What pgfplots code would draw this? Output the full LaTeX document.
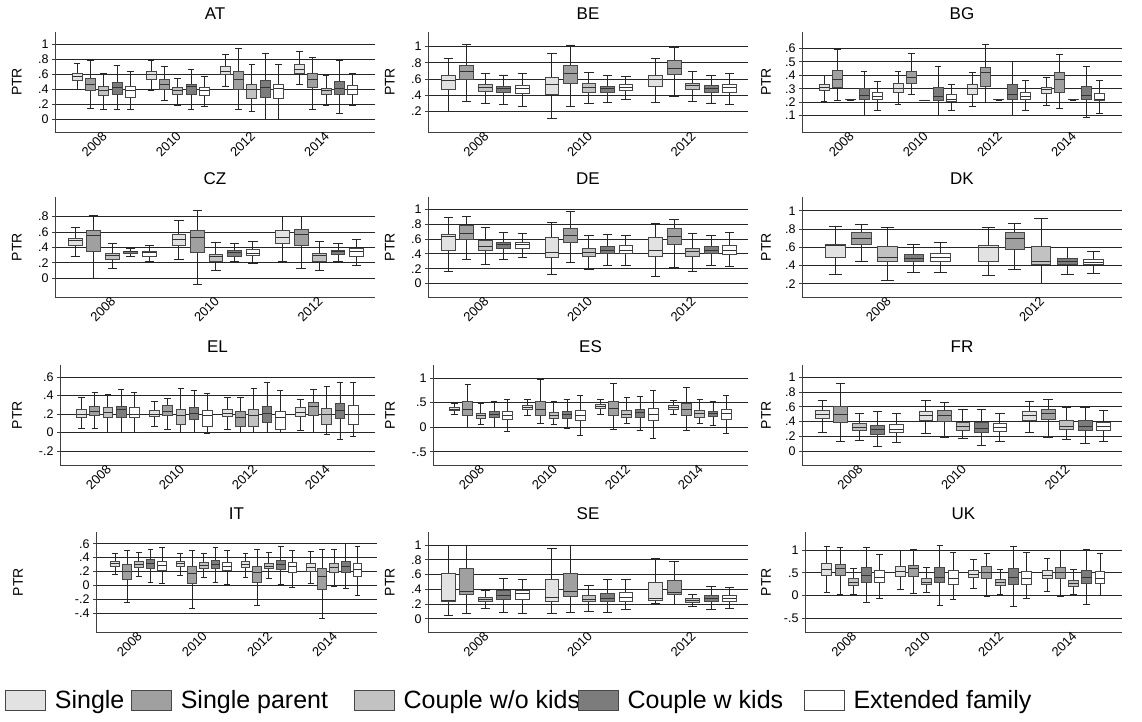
\documentclass[border=0pt]{standalone}
\usepackage{pgfplots}
\pgfplotsset{compat=1.18}
\usepackage{pgfplotstable}
\usepgfplotslibrary{statistics}
\usepackage{fontspec}
\setmainfont{Liberation Sans}

\definecolor{c1}{HTML}{E2E2E2}
\definecolor{c2}{HTML}{A0A0A0}
\definecolor{c3}{HTML}{C2C2C2}
\definecolor{c4}{HTML}{7C7C7C}
\definecolor{c5}{HTML}{FFFFFF}
\colorlet{edge}{black!72}

% columns: g = year group, c = household type, lw lq med uq uw
\pgfplotstableread{
g c lw lq med uq uw
0 1 0.40 0.525 0.57 0.61 0.75
0 2 0.15 0.39 0.47 0.55 0.78
0 3 0.135 0.315 0.39 0.435 0.61
0 4 0.135 0.335 0.425 0.49 0.72
0 5 0.135 0.29 0.39 0.435 0.64
1 1 0.38 0.53 0.60 0.64 0.785
1 2 0.245 0.40 0.47 0.535 0.70
1 3 0.19 0.33 0.38 0.42 0.55
1 4 0.135 0.335 0.435 0.47 0.67
1 5 0.165 0.32 0.39 0.42 0.57
2 1 0.445 0.60 0.64 0.70 0.86
2 2 0.135 0.40 0.525 0.64 0.94
2 3 0.10 0.28 0.40 0.47 0.73
2 4 0.0 0.29 0.425 0.525 0.88
2 5 0.0 0.28 0.415 0.46 0.73
3 1 0.47 0.615 0.66 0.73 0.90
3 2 0.135 0.425 0.525 0.615 0.82
3 3 0.18 0.33 0.39 0.41 0.58
3 4 0.075 0.335 0.415 0.505 0.785
3 5 0.18 0.335 0.40 0.45 0.61
}\tabAT

\pgfplotstableread{
g c lw lq med uq uw
0 1 0.20 0.47 0.585 0.64 0.85
0 2 0.325 0.59 0.695 0.765 1.03
0 3 0.305 0.45 0.50 0.53 0.67
0 4 0.285 0.43 0.48 0.51 0.65
0 5 0.265 0.42 0.48 0.52 0.665
1 1 0.12 0.415 0.53 0.625 0.92
1 2 0.265 0.55 0.665 0.765 1.02
1 3 0.30 0.435 0.49 0.54 0.68
1 4 0.315 0.43 0.48 0.51 0.64
1 5 0.345 0.46 0.50 0.53 0.63
2 1 0.315 0.51 0.59 0.64 0.85
2 2 0.38 0.66 0.735 0.835 0.99
2 3 0.325 0.47 0.52 0.55 0.69
2 4 0.305 0.43 0.48 0.52 0.64
2 5 0.285 0.43 0.49 0.53 0.665
}\tabBE

\pgfplotstableread{
g c lw lq med uq uw
0 1 0.205 0.285 0.31 0.335 0.40
0 2 0.21 0.31 0.37 0.435 0.59
0 3 0.216 0.218 0.219 0.220 0.222
0 4 0.10 0.22 0.25 0.30 0.43
0 5 0.14 0.22 0.245 0.27 0.355
1 1 0.185 0.27 0.305 0.34 0.43
1 2 0.255 0.34 0.385 0.43 0.56
1 3 0.210 0.212 0.213 0.214 0.216
1 4 0.10 0.215 0.245 0.31 0.465
1 5 0.135 0.205 0.22 0.26 0.335
2 1 0.164 0.26 0.304 0.33 0.42
2 2 0.20 0.32 0.42 0.455 0.63
2 3 0.216 0.218 0.219 0.220 0.222
2 4 0.10 0.22 0.255 0.33 0.50
2 5 0.135 0.22 0.245 0.27 0.36
3 1 0.175 0.265 0.295 0.31 0.385
3 2 0.155 0.27 0.37 0.42 0.555
3 3 0.216 0.218 0.219 0.220 0.222
3 4 0.085 0.22 0.25 0.315 0.465
3 5 0.115 0.215 0.22 0.265 0.36
}\tabBG

\pgfplotstableread{
g c lw lq med uq uw
0 1 0.28 0.425 0.49 0.52 0.665
0 2 0.0 0.35 0.55 0.615 0.82
0 3 0.125 0.245 0.295 0.32 0.45
0 4 0.285 0.32 0.34 0.35 0.385
0 5 0.21 0.285 0.33 0.35 0.425
1 1 0.245 0.425 0.50 0.565 0.75
1 2 -0.085 0.33 0.535 0.62 0.875
1 3 0.105 0.21 0.28 0.31 0.465
1 4 0.21 0.285 0.33 0.36 0.445
1 5 0.19 0.295 0.32 0.37 0.48
2 1 0.22 0.45 0.535 0.615 0.80
2 2 0.13 0.43 0.565 0.635 0.80
2 3 0.105 0.21 0.295 0.32 0.48
2 4 0.22 0.31 0.34 0.36 0.445
2 5 0.16 0.285 0.34 0.38 0.50
}\tabCZ

\pgfplotstableread{
g c lw lq med uq uw
0 1 0.16 0.45 0.63 0.66 0.89
0 2 0.32 0.59 0.68 0.78 0.90
0 3 0.26 0.45 0.50 0.58 0.76
0 4 0.33 0.47 0.52 0.56 0.69
0 5 0.35 0.47 0.52 0.56 0.67
1 1 0.13 0.35 0.42 0.62 0.83
1 2 0.28 0.55 0.65 0.74 0.97
1 3 0.19 0.36 0.42 0.48 0.65
1 4 0.24 0.40 0.45 0.50 0.66
1 5 0.25 0.40 0.45 0.51 0.65
2 1 0.10 0.36 0.44 0.62 0.81
2 2 0.22 0.53 0.63 0.74 0.86
2 3 0.17 0.36 0.43 0.48 0.67
2 4 0.24 0.40 0.45 0.50 0.65
2 5 0.23 0.39 0.44 0.51 0.69
}\tabDE

\pgfplotstableread{
g c lw lq med uq uw
0 1 0.30 0.49 0.62 0.63 0.83
0 2 0.45 0.63 0.70 0.76 0.85
0 3 0.235 0.44 0.49 0.61 0.82
0 4 0.325 0.44 0.476 0.52 0.63
0 5 0.32 0.44 0.49 0.53 0.65
1 1 0.29 0.45 0.60 0.62 0.82
1 2 0.36 0.58 0.70 0.76 0.86
1 3 0.20 0.41 0.44 0.61 0.91
1 4 0.30 0.41 0.44 0.48 0.60
1 5 0.31 0.41 0.43 0.47 0.55
}\tabDK

\pgfplotstableread{
g c lw lq med uq uw
0 1 0.04 0.16 0.20 0.25 0.38
0 2 0.04 0.19 0.23 0.28 0.43
0 3 0.0 0.16 0.22 0.27 0.41
0 4 0.0 0.16 0.25 0.28 0.47
0 5 0.0 0.16 0.20 0.27 0.43
1 1 0.07 0.17 0.20 0.24 0.34
1 2 0.03 0.18 0.23 0.29 0.37
1 3 0.0 0.09 0.19 0.25 0.48
1 4 0.0 0.14 0.21 0.27 0.46
1 5 -0.01 0.07 0.19 0.24 0.42
2 1 0.03 0.17 0.21 0.25 0.38
2 2 0.0 0.07 0.16 0.23 0.38
2 3 0.0 0.07 0.19 0.25 0.48
2 4 0.0 0.11 0.21 0.28 0.54
2 5 0.0 0.03 0.16 0.23 0.45
3 1 0.02 0.17 0.22 0.27 0.36
3 2 0.0 0.18 0.28 0.33 0.47
3 3 -0.02 0.09 0.20 0.26 0.50
3 4 -0.07 0.15 0.24 0.32 0.54
3 5 -0.04 0.09 0.20 0.29 0.54
}\tabEL

\pgfplotstableread{
g c lw lq med uq uw
0 1 0.27 0.35 0.37 0.41 0.48
0 2 0.0 0.24 0.37 0.52 0.88
0 3 0.06 0.17 0.23 0.29 0.48
0 4 0.0 0.19 0.26 0.32 0.52
0 5 -0.09 0.15 0.24 0.32 0.57
1 1 0.25 0.36 0.40 0.45 0.56
1 2 0.07 0.24 0.37 0.53 0.97
1 3 0.06 0.18 0.23 0.30 0.52
1 4 -0.03 0.18 0.27 0.32 0.56
1 5 -0.17 0.13 0.25 0.35 0.65
2 1 0.27 0.38 0.42 0.47 0.57
2 2 -0.04 0.24 0.38 0.52 0.90
2 3 0.07 0.19 0.27 0.34 0.61
2 4 -0.06 0.20 0.30 0.37 0.63
2 5 -0.23 0.13 0.26 0.39 0.76
3 1 0.26 0.37 0.41 0.45 0.55
3 2 -0.06 0.25 0.37 0.48 0.82
3 3 0.07 0.20 0.28 0.35 0.57
3 4 0.04 0.22 0.28 0.33 0.53
3 5 -0.13 0.16 0.28 0.36 0.65
}\tabES

\pgfplotstableread{
g c lw lq med uq uw
0 1 0.25 0.44 0.50 0.55 0.69
0 2 0.13 0.39 0.49 0.61 0.92
0 3 0.14 0.28 0.32 0.37 0.51
0 4 0.06 0.23 0.29 0.35 0.53
0 5 0.11 0.25 0.29 0.36 0.51
1 1 0.24 0.41 0.48 0.53 0.69
1 2 0.18 0.40 0.48 0.55 0.66
1 3 0.17 0.28 0.33 0.39 0.56
1 4 0.07 0.25 0.30 0.39 0.56
1 5 0.13 0.27 0.32 0.37 0.51
2 1 0.25 0.42 0.48 0.54 0.67
2 2 0.19 0.43 0.51 0.57 0.70
2 3 0.16 0.29 0.33 0.41 0.59
2 4 0.10 0.28 0.33 0.41 0.59
2 5 0.13 0.28 0.33 0.39 0.55
}\tabFR

\pgfplotstableread{
g c lw lq med uq uw
0 1 0.16 0.27 0.31 0.34 0.46
0 2 -0.25 0.08 0.20 0.30 0.51
0 3 0.13 0.26 0.30 0.34 0.47
0 4 0.05 0.25 0.31 0.37 0.52
0 5 0.03 0.22 0.29 0.35 0.55
1 1 0.15 0.27 0.31 0.34 0.46
1 2 -0.33 0.03 0.17 0.28 0.51
1 3 0.12 0.25 0.29 0.33 0.46
1 4 0.05 0.24 0.30 0.36 0.55
1 5 0.01 0.21 0.27 0.33 0.50
2 1 0.12 0.26 0.30 0.34 0.46
2 2 -0.29 0.04 0.18 0.28 0.52
2 3 0.10 0.24 0.28 0.32 0.47
2 4 0.02 0.23 0.30 0.36 0.56
2 5 -0.03 0.19 0.27 0.33 0.51
3 1 0.03 0.20 0.26 0.31 0.49
3 2 -0.48 -0.06 0.13 0.25 0.52
3 3 -0.01 0.19 0.26 0.32 0.52
3 4 -0.05 0.19 0.28 0.35 0.60
3 5 -0.14 0.13 0.23 0.32 0.56
}\tabIT

\pgfplotstableread{
g c lw lq med uq uw
0 1 0.05 0.24 0.25 0.62 1.0
0 2 0.07 0.33 0.37 0.68 1.0
0 3 0.14 0.23 0.26 0.29 0.38
0 4 0.08 0.26 0.32 0.38 0.55
0 5 0.07 0.26 0.34 0.39 0.53
1 1 0.07 0.24 0.29 0.53 0.95
1 2 0.08 0.31 0.37 0.62 1.0
1 3 0.10 0.23 0.26 0.32 0.45
1 4 0.08 0.23 0.28 0.35 0.53
1 5 0.12 0.23 0.29 0.36 0.54
2 1 0.21 0.25 0.28 0.49 0.82
2 2 0.19 0.33 0.36 0.52 0.78
2 3 0.17 0.22 0.25 0.27 0.33
2 4 0.12 0.23 0.27 0.32 0.44
2 5 0.14 0.23 0.28 0.32 0.43
}\tabSE

\pgfplotstableread{
g c lw lq med uq uw
0 1 0.06 0.45 0.58 0.71 1.08
0 2 0.03 0.44 0.60 0.69 1.05
0 3 0.03 0.22 0.28 0.37 0.60
0 4 -0.15 0.30 0.45 0.61 1.06
0 5 -0.06 0.30 0.40 0.55 0.91
1 1 0.13 0.43 0.53 0.64 0.99
1 2 0.05 0.43 0.59 0.67 1.02
1 3 0.08 0.24 0.30 0.38 0.61
1 4 -0.22 0.28 0.41 0.61 1.10
1 5 -0.09 0.25 0.38 0.55 0.94
2 1 0.16 0.40 0.47 0.55 0.80
2 2 -0.01 0.38 0.52 0.65 0.93
2 3 0.03 0.22 0.28 0.36 0.58
2 4 -0.24 0.25 0.40 0.60 1.09
2 5 -0.06 0.24 0.38 0.53 0.94
3 1 0.10 0.38 0.45 0.55 0.82
3 2 -0.02 0.37 0.50 0.63 1.00
3 3 0.02 0.20 0.26 0.34 0.57
3 4 -0.19 0.27 0.40 0.56 1.01
3 5 0.0 0.26 0.37 0.53 0.93
}\tabUK

\newcommand\drawboxes[1]{%
  \pgfplotstablegetrowsof{#1}%
  \pgfmathtruncatemacro\lastrow{\pgfplotsretval-1}%
  \pgfplotsforeachungrouped \rowi in {0,...,\lastrow}{%
    \pgfplotstablegetelem{\rowi}{g}\of{#1}\let\vg\pgfplotsretval
    \pgfplotstablegetelem{\rowi}{c}\of{#1}\let\vc\pgfplotsretval
    \pgfplotstablegetelem{\rowi}{lw}\of{#1}\let\vlw\pgfplotsretval
    \pgfplotstablegetelem{\rowi}{lq}\of{#1}\let\vlq\pgfplotsretval
    \pgfplotstablegetelem{\rowi}{med}\of{#1}\let\vmed\pgfplotsretval
    \pgfplotstablegetelem{\rowi}{uq}\of{#1}\let\vuq\pgfplotsretval
    \pgfplotstablegetelem{\rowi}{uw}\of{#1}\let\vuw\pgfplotsretval
    \pgfmathsetmacro\vpos{\vg*\gsp+\vc-1}%
    \edef\doplot{\noexpand\addplot[boxstyle, fill=c\vc, boxplot prepared={draw position=\vpos, lower whisker=\vlw, lower quartile=\vlq, median=\vmed, upper quartile=\vuq, upper whisker=\vuw}] coordinates {};}%
    \doplot
  }%
}

\pgfplotsset{
  boxstyle/.style={draw=edge, line width=0.9pt, solid,
    boxplot/every whisker/.style={draw=black!85},
    boxplot/every median/.style={draw=black!80, line width=1pt}},
  panel/.style={
    scale only axis, height=100pt,
    anchor=north west,
    axis x line*=bottom, axis y line*=left,
    axis line style={black!75, line width=0.9pt},
    ymajorgrids, grid style={black!85, line width=0.9pt},
    xtick style={draw=none}, ytick style={black!75, line width=0.9pt},
    major tick length=3pt, tick align=outside,
    tick label style={font=\fontsize{12.5}{12.5}\selectfont},
    xticklabel style={font=\fontsize{13}{13}\selectfont, inner sep=0pt, xshift=1pt, yshift=1pt, rotate=45, anchor=east},
    ylabel={PTR},
    ylabel style={font=\fontsize{14}{14}\selectfont, anchor=center},
    title style={font=\fontsize{17}{17}\selectfont, yshift=3pt},
    boxplot/draw direction=y,
    boxplot/box extend=0.75,
    boxplot/whisker extend=0.5,
  },
  four/.style={xmin=-1.65, xmax=22.35, xtick={2,7.56,13.12,18.68}, xticklabels={2008,2010,2012,2014}},
  three/.style={xmin=-1.1, xmax=16.2, xtick={2,7.6,13.2}, xticklabels={2008,2010,2012}},
  two/.style={xmin=-1.27, xmax=10.94, xtick={2,7.85}, xticklabels={2008,2012}},
  yA/.style={ytick={0,0.2,0.4,0.6,0.8,1}, yticklabels={0,.2,.4,.6,.8,1}},
  yB/.style={ytick={0.2,0.4,0.6,0.8,1}, yticklabels={.2,.4,.6,.8,1}},
}

\begin{document}
\begin{tikzpicture}
\path[use as bounding box] (0pt,0pt) rectangle (1142pt,-722pt);

% Row 1
\def\gsp{5.56}
\begin{axis}[panel, four, yA, at={(55pt,-32pt)}, width=320pt, ymin=-0.17, ymax=1.166, title={AT},
  ylabel style={at={(axis description cs:-0.119,0.5)}}]
\drawboxes{\tabAT}
\end{axis}

\def\gsp{5.6}
\begin{axis}[panel, three, yB, at={(428pt,-32pt)}, width=320pt, ymin=-0.053, ymax=1.18, title={BE},
  ylabel style={at={(axis description cs:-0.119,0.5)}}]
\drawboxes{\tabBE}
\end{axis}

\def\gsp{5.56}
\begin{axis}[panel, four, at={(802pt,-32pt)}, width=320pt, ymin=-0.023, ymax=0.723, title={BG},
  ytick={0.1,0.2,0.3,0.4,0.5,0.6}, yticklabels={.1,.2,.3,.4,.5,.6},
  ylabel style={at={(axis description cs:-0.1125,0.5)}}]
\drawboxes{\tabBG}
\end{axis}

% Row 2
\def\gsp{5.6}
\begin{axis}[panel, three, at={(55pt,-197pt)}, width=320pt, ymin=-0.248, ymax=1.057, title={CZ},
  ytick={0,0.2,0.4,0.6,0.8}, yticklabels={0,.2,.4,.6,.8},
  ylabel style={at={(axis description cs:-0.119,0.5)}}]
\drawboxes{\tabCZ}
\end{axis}

\begin{axis}[panel, three, yA, at={(428pt,-197pt)}, width=320pt, ymin=-0.18, ymax=1.166, title={DE},
  ylabel style={at={(axis description cs:-0.119,0.5)}}]
\drawboxes{\tabDE}
\end{axis}

\def\gsp{5.85}
\begin{axis}[panel, two, yB, at={(802pt,-197pt)}, width=320pt, ymin=0.056, ymax=1.15, title={DK},
  ylabel style={at={(axis description cs:-0.1125,0.5)}}]
\drawboxes{\tabDK}
\end{axis}

% Row 3
\def\gsp{5.56}
\begin{axis}[panel, four, at={(60pt,-365pt)}, width=315pt, ymin=-0.35, ymax=0.73, title={EL},
  ytick={-0.2,0,0.2,0.4,0.6}, yticklabels={-.2,0,.2,.4,.6},
  ylabel style={at={(axis description cs:-0.1365,0.5)}}]
\drawboxes{\tabEL}
\end{axis}

\begin{axis}[panel, four, at={(433pt,-365pt)}, width=315pt, ymin=-0.77, ymax=1.27, title={ES},
  ytick={-0.5,0,0.5,1}, yticklabels={-.5,0,.5,1},
  ylabel style={at={(axis description cs:-0.1365,0.5)}}]
\drawboxes{\tabES}
\end{axis}

\def\gsp{5.6}
\begin{axis}[panel, three, yA, at={(802pt,-365pt)}, width=320pt, ymin=-0.19, ymax=1.166, title={FR},
  ylabel style={at={(axis description cs:-0.1125,0.5)}}]
\drawboxes{\tabFR}
\end{axis}

% Row 4
\def\gsp{5.56}
\begin{axis}[panel, four, at={(96pt,-532pt)}, width=281pt, ymin=-0.67, ymax=0.77, title={IT},
  ytick={-0.4,-0.2,0,0.2,0.4,0.6}, yticklabels={-.4,-.2,0,.2,.4,.6},
  ylabel style={at={(axis description cs:-0.2776,0.5)}}]
\drawboxes{\tabIT}
\end{axis}

\def\gsp{5.6}
\begin{axis}[panel, three, yA, at={(428pt,-532pt)}, width=320pt, ymin=-0.18, ymax=1.18, title={SE},
  ylabel style={at={(axis description cs:-0.119,0.5)}}]
\drawboxes{\tabSE}
\end{axis}

\def\gsp{5.56}
\begin{axis}[panel, four, at={(805pt,-532pt)}, width=317pt, ymin=-0.80, ymax=1.40, title={UK},
  ytick={-0.5,0,0.5,1}, yticklabels={-.5,0,.5,1},
  ylabel style={at={(axis description cs:-0.123,0.5)}}]
\drawboxes{\tabUK}
\end{axis}

% Legend
\begin{axis}[at={(5pt,-700pt)}, anchor=west, hide axis, scale only axis,
  width=1pt, height=1pt, xmin=0, xmax=1, ymin=0, ymax=1,
  legend style={at={(0,0.5)}, anchor=west, draw=none, fill=none, inner sep=0pt, outer sep=0pt,
    nodes={inner sep=0pt},
    legend columns=5, font=\fontsize{25}{25}\selectfont,
    /tikz/every odd column/.style={column sep=9pt},
    /tikz/every even column/.style={column sep=0pt}},
  legend image code/.code={\draw[#1, line width=0.9pt] (0pt,-10pt) rectangle (40pt,10pt);}]
\addlegendimage{fill=c1, draw=edge}\addlegendentry{\makebox[76pt][l]{Single}}
\addlegendimage{fill=c2, draw=edge}\addlegendentry{\makebox[173pt][l]{Single parent}}
\addlegendimage{fill=c3, draw=edge}\addlegendentry{\makebox[174pt][l]{Couple w/o kids}}
\addlegendimage{fill=c4, draw=edge}\addlegendentry{\makebox[176pt][l]{Couple w kids}}
\addlegendimage{fill=c5, draw=edge}\addlegendentry{Extended family}
\end{axis}
\end{tikzpicture}
\end{document}
